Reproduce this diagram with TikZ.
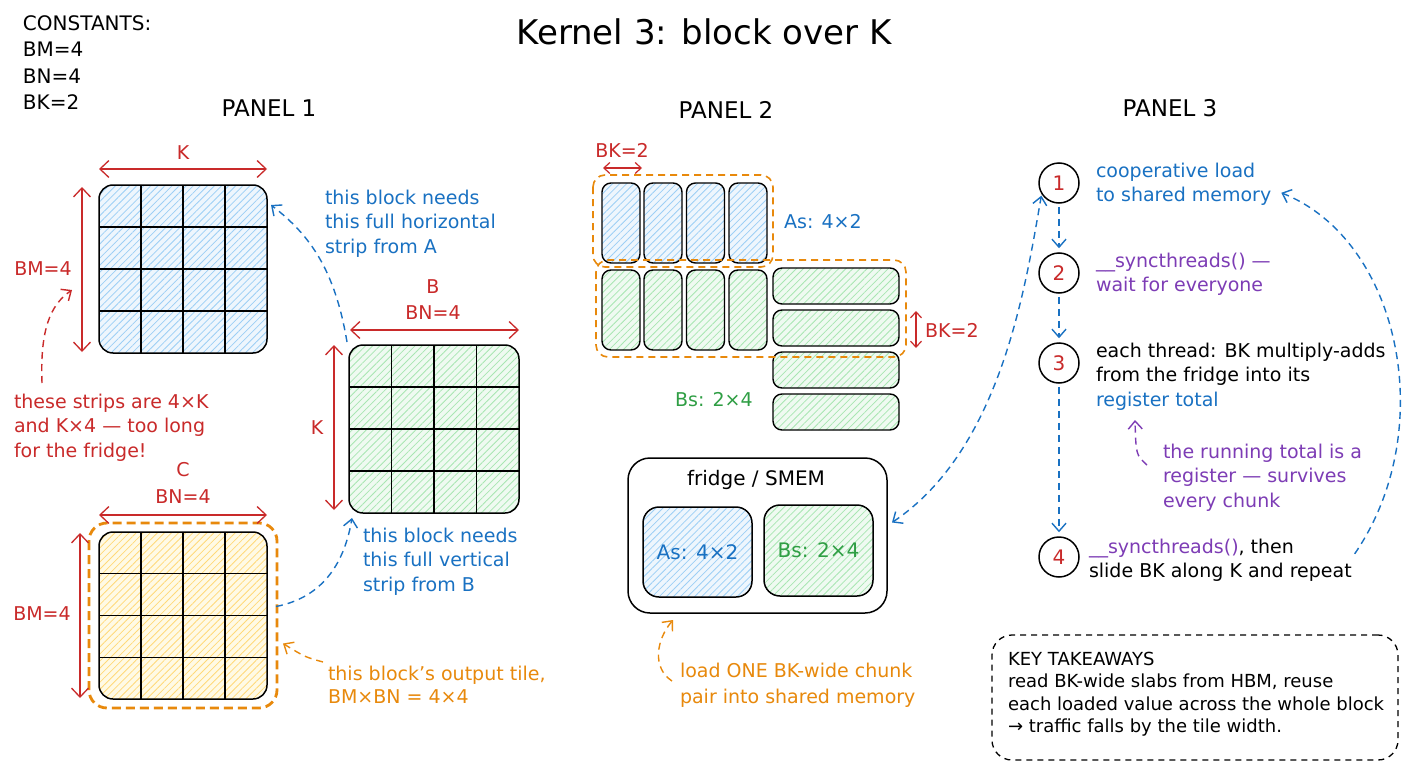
\documentclass[tikz,border=0pt]{standalone}
\usepackage{fontspec}
\setmainfont{DejaVu Sans}
\usetikzlibrary{arrows.meta,patterns.meta,calc}
\definecolor{redc}{HTML}{C92A2A}
\definecolor{bluec}{HTML}{1971C2}
\definecolor{greenc}{HTML}{2F9E44}
\definecolor{orangec}{HTML}{E8890C}
\definecolor{purplec}{HTML}{7D3CB5}
\definecolor{blueL}{HTML}{9CCFF5}
\definecolor{blueF}{HTML}{EEF6FD}
\definecolor{greenL}{HTML}{A8E6B2}
\definecolor{greenF}{HTML}{EFFAF1}
\definecolor{yellowL}{HTML}{FFD978}
\definecolor{yellowF}{HTML}{FFFAE5}
\tikzset{
  tb/.style={font=\fontsize{19}{24.5}\selectfont, inner sep=0pt, outer sep=0pt, align=left, anchor=north west},
  lb/.style={font=\fontsize{19}{24.5}\selectfont, inner sep=0pt},
  panel/.style={font=\fontsize{23}{28}\selectfont, inner sep=0pt},
  dimline/.style={draw=redc, line width=1.3pt, {Straight Barb[length=9pt,width=17pt]}-{Straight Barb[length=9pt,width=17pt]}},
  dimshort/.style={draw=redc, line width=1.2pt, {Straight Barb[length=6pt,width=11pt]}-{Straight Barb[length=6pt,width=11pt]}},
  dashconn/.style={line width=1.4pt, dash pattern=on 7pt off 5pt, -{Straight Barb[length=8pt,width=14pt]}},
  dashboth/.style={line width=1.4pt, dash pattern=on 7pt off 5pt, {Straight Barb[length=8pt,width=14pt]}-{Straight Barb[length=8pt,width=14pt]}},
  mat/.style={draw=black, line width=1.5pt, rounded corners=14pt, outer sep=0pt, inner sep=0pt},
  cellbox/.style={draw=black, line width=1.4pt, rounded corners=9pt, outer sep=0pt, inner sep=0pt},
  hatchblue/.style={preaction={fill=blueF}, pattern={Lines[angle=45,distance=5pt,line width=0.8pt]}, pattern color=blueL},
  hatchgreen/.style={preaction={fill=greenF}, pattern={Lines[angle=45,distance=5pt,line width=0.8pt]}, pattern color=greenL},
  hatchyellow/.style={preaction={fill=yellowF}, pattern={Lines[angle=45,distance=5pt,line width=0.8pt]}, pattern color=yellowL},
  gridln/.style={draw=black, line width=1.4pt},
  orangedash/.style={draw=orangec, line width=1.6pt, dash pattern=on 7pt off 5pt, rounded corners=12pt},
  circ/.style={circle, draw=black, line width=1.5pt, minimum size=40pt, inner sep=0pt, text=redc, font=\fontsize{20}{24}\selectfont},
}
\newcommand\fourgrid[1]{%
  \foreach \i in {1,2,3}{%
    \draw[gridln] ($(#1.north west)!\i/4!(#1.north east)$) -- ($(#1.south west)!\i/4!(#1.south east)$);
    \draw[gridln] ($(#1.north west)!\i/4!(#1.south west)$) -- ($(#1.north east)!\i/4!(#1.south east)$);
  }}
\begin{document}
\begin{tikzpicture}[x=1pt,y=-1pt]
\useasboundingbox (0,0) rectangle (1408,768);
\fill[white] (0,0) rectangle (1408,768);

% ---------- header ----------
\node[font=\fontsize{34}{40}\selectfont, inner sep=0pt] (title) at (704,32) {Kernel 3: block over K};
\node[tb, font=\fontsize{20}{26.3}\selectfont] (const) at (23,12) {\strut CONSTANTS:\\BM=4\\BN=4\\BK=2};
\node[panel] (p1) at (269,108) {PANEL 1};
\node[panel] (p2) at (726,110) {PANEL 2};
\node[panel] (p3) at (1170,108) {PANEL 3};

% ---------- panel 1 ----------
\node[mat, hatchblue, minimum width=168pt, minimum height=168pt] (A) at (183,269) {};
\fourgrid{A}
\node[mat, hatchgreen, minimum width=170pt, minimum height=168pt] (B) at (434,429) {};
\fourgrid{B}
\node[mat, hatchyellow, minimum width=168pt, minimum height=167pt] (C) at (183,615.5) {};
\fourgrid{C}
\draw[orangec, line width=2.8pt, dash pattern=on 9pt off 5pt, rounded corners=18pt]
  ($(C.north west)+(-10,-9)$) rectangle ($(C.south east)+(10,9)$);

\draw[dimline] ($(A.north west)+(0,-16)$) -- ($(A.north east)+(0,-16)$);
\draw[dimline] ($(A.north west)+(-17,2)$) -- ($(A.south west)+(-17,-1)$);
\node[lb, text=redc] (kA) at (183,153) {K};
\node[lb, text=redc] (bmA) at (43,269) {BM=4};

\draw[dimline] ($(B.north west)+(1,-15)$) -- ($(B.north east)+(0,-15)$);
\draw[dimline] ($(B.north west)+(-15,0)$) -- ($(B.south west)+(-15,-3)$);
\node[lb, text=redc] (bB) at (433,287) {B};
\node[lb, text=redc] (bnB) at (433,313) {BN=4};
\node[lb, text=redc] (kB) at (317,428) {K};

\draw[dimline] ($(C.north west)+(0,-17)$) -- ($(C.north east)+(0,-17)$);
\draw[dimline] ($(C.north west)+(-19,1)$) -- ($(C.south west)+(-19,-1)$);
\node[lb, text=redc] (cC) at (183,470) {C};
\node[lb, text=redc] (bnC) at (183,497) {BN=4};
\node[lb, text=redc] (bmC) at (42,614) {BM=4};

\node[tb, text=redc] (strips) at (14,391) {\strut these strips are 4×K\\and K×4 — too long\\for the fridge!};
\node[tb, text=bluec] (needA) at (325,187) {\strut this block needs\\this full horizontal\\strip from A};
\node[tb, text=bluec] (needB) at (363,525) {\strut this block needs\\this full vertical\\strip from B};
\node[tb, text=orangec, font=\fontsize{19}{23}\selectfont] (outC) at (328,664) {\strut this block's output tile,\\BM×BN = 4×4};

\draw[dashconn, redc] ($(strips.north west)+(28,-8)$) .. controls (40,330) and (50,305) .. ($(A.west)+(-27,21)$);
\draw[dashconn, bluec] ($(B.north west)+(-2,-3)$) .. controls (335,270) and (310,235) .. ($(A.north east)+(4,20)$);
\draw[dashconn, bluec] ($(C.east)+(9,-9)$) .. controls (325,597) and (345,560) .. ($(B.south west)+(3,5)$);
\draw[dashconn, orangec] ($(outC.north west)+(-5,-2)$) .. controls (305,657) .. ($(C.east)+(16,28)$);

% ---------- panel 2 ----------
\foreach \n/\x in {1/621,2/663,3/705.5,4/748}{
  \node[cellbox, hatchblue, minimum width=38pt, minimum height=80pt] (as\n) at (\x,223) {};
  \node[cellbox, hatchgreen, minimum width=38pt, minimum height=80pt] (bs\n) at (\x,310) {};
}
\foreach \n/\y in {1/286,2/328,3/370,4/412}{
  \node[cellbox, hatchgreen, minimum width=126pt, minimum height=36pt] (bh\n) at (836,\y) {};
}
\draw[orangedash] ($(as1.north west)+(-9,-8)$) rectangle ($(as4.south east)+(6,4)$);
\draw[orangedash] ($(bs1.north west)+(-6,-10)$) rectangle ($(bh2.south east)+(7,11)$);

\draw[dimshort] ($(as1.north west)+(1,-15)$) -- ($(as1.north east)+(2,-15)$);
\node[lb, text=redc] (bk1) at (622,150) {BK=2};
\draw[dimshort] ($(bh2.north east)+(17,1)$) -- ($(bh2.south east)+(17,2)$);
\node[lb, text=redc, anchor=west] (bk2) at (925,330) {BK=2};
\node[lb, text=bluec, anchor=west] (aslbl) at (784,222) {As: 4×2};
\node[lb, text=greenc, anchor=west] (bslbl) at (675,400) {Bs: 2×4};

\node[draw=black, line width=1.5pt, rounded corners=22pt, minimum width=259pt, minimum height=155pt, inner sep=0pt, outer sep=0pt] (fridge) at (757.5,535.5) {};
\node[lb, font=\fontsize{20}{24}\selectfont] (ftitle) at (756,480) {fridge / SMEM};
\node[mat, rounded corners=16pt, hatchblue, minimum width=109pt, minimum height=90pt, text=bluec, font=\fontsize{20}{24}\selectfont] (fa) at (697.5,552) {As: 4×2};
\node[mat, rounded corners=16pt, hatchgreen, minimum width=109pt, minimum height=91pt, text=greenc, font=\fontsize{20}{24}\selectfont] (fb) at (818.5,550.5) {Bs: 2×4};

\node[tb, text=orangec, font=\fontsize{19}{26}\selectfont] (loadtxt) at (680,659) {\strut load ONE BK-wide chunk\\pair into shared memory};
\draw[dashconn, orangec] ($(loadtxt.north west)+(-8,22)$) .. controls (652,668) and (656,640) .. ($(fridge.south west)+(45,7)$);

% ---------- panel 3 ----------
\node[circ] (c1) at (1059,183) {1};
\node[circ] (c2) at (1059,273) {2};
\node[circ] (c3) at (1059,363) {3};
\node[circ] (c4) at (1059,557) {4};
\draw[dashconn, bluec, shorten <=3pt, shorten >=4pt] (c1) -- (c2);
\draw[dashconn, bluec, shorten <=3pt, shorten >=4pt] (c2) -- (c3);
\draw[dashconn, bluec, shorten <=3pt, shorten >=4pt] (c3) -- (c4);

\node[tb, text=bluec] (t1) at (1096,160) {\strut cooperative load\\to shared memory};
\node[tb, text=purplec] (t2) at (1096,250) {\strut \_\_syncthreads() —\\wait for everyone};
\node[tb] (t3) at (1096,340) {\strut each thread: BK multiply-adds\\from the fridge into its\\\textcolor{bluec}{register total}};
\node[tb, text=purplec] (t3n) at (1163,441) {\strut the running total is a\\register — survives\\every chunk};
\node[tb] (t4) at (1089,536) {\strut\textcolor{purplec}{\_\_syncthreads()}, then\\slide BK along K and repeat};

\draw[dashconn, purplec] ($(t3n.north west)+(-16,24)$) .. controls (1136,455) .. ($(t3.north west)+(39,80)$);
\draw[dashconn, bluec] ($(t4.east)+(3,-5)$) .. controls (1440,430) and (1400,240) .. ($(t1.east)+(10,10)$);
\draw[dashboth, bluec] ($(fridge.east)+(5,-13)$) .. controls (1000,450) and (1025,290) .. ($(c1.south west)+(-3,-2)$);

% ---------- key takeaways ----------
\node[draw=black, line width=1.3pt, dash pattern=on 6pt off 5pt, rounded corners=20pt, minimum width=406pt, minimum height=125pt, inner sep=0pt] (key) at (1195,697.5) {};
\node[tb, font=\fontsize{18}{22.3}\selectfont] (keytxt) at (1008,650) {\strut KEY TAKEAWAYS\\read BK-wide slabs from HBM, reuse\\each loaded value across the whole block\\→ traffic falls by the tile width.};
\end{tikzpicture}
\end{document}
